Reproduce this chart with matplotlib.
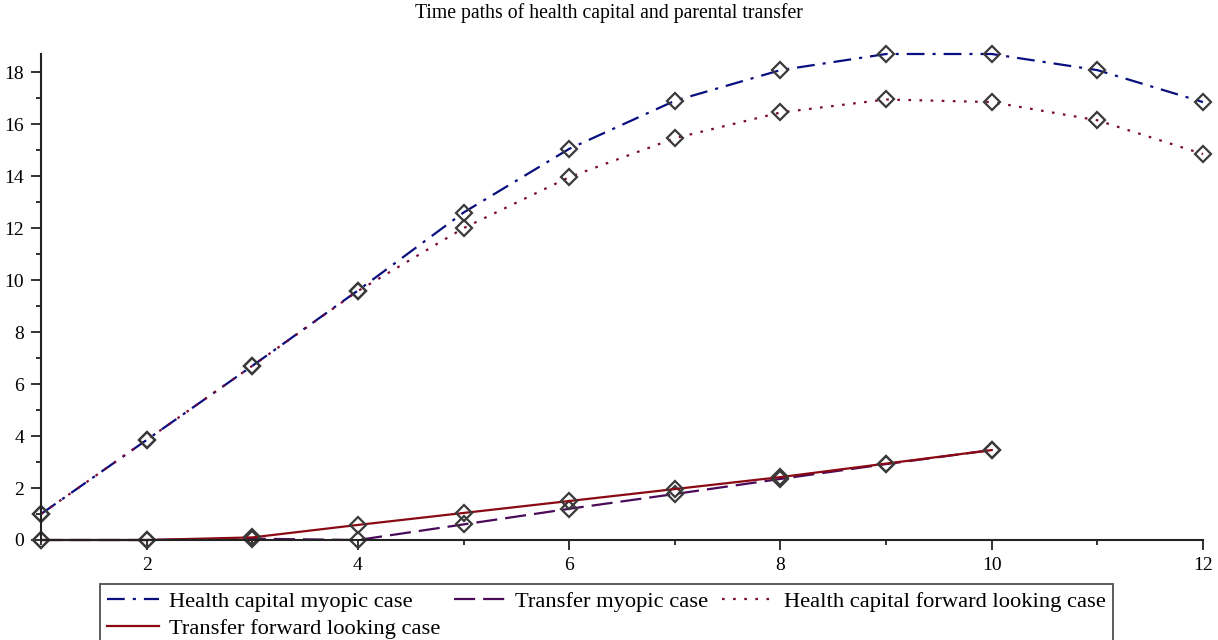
import numpy as np
import matplotlib
matplotlib.use("Agg")
import matplotlib.pyplot as plt

plt.rcParams["font.family"] = ["Liberation Serif", "DejaVu Serif"]

# ---- data ------------------------------------------------------------------
t = [1, 2, 3, 4, 5, 6, 7, 8, 9, 10, 11, 12]
health_myopic = [1.0, 3.85, 6.7, 9.6, 12.6, 15.05, 16.9, 18.08, 18.7, 18.7, 18.08, 16.85]
health_forward = [1.0, 3.85, 6.7, 9.58, 12.0, 13.96, 15.46, 16.45, 16.95, 16.85, 16.15, 14.85]
t_transfer = [1, 2, 3, 4, 5, 6, 7, 8, 9, 10]
transfer_myopic = [0.0, 0.0, 0.05, 0.0, 0.6, 1.2, 1.77, 2.35, 2.92, 3.46]
transfer_forward = [0.0, 0.0, 0.1, 0.58, 1.04, 1.5, 1.96, 2.42, 2.94, 3.46]

C_HM = "#0a0f80"   # navy
C_TM = "#4a0a5a"   # purple
C_HF = "#7a0a3a"   # maroon
C_TF = "#8a0a14"   # dark red
MK = dict(marker="D", ms=8, mfc="none", mec="#3a3a3a", mew=1.6)

fig = plt.figure(figsize=(12.18, 6.4), dpi=100)
ax = fig.add_axes([41 / 1218, 1 - 540 / 640, (1203 - 41) / 1218, (540 - 54) / 640])

l_hm, = ax.plot(t, health_myopic, color=C_HM, lw=1.6, dashes=(8, 3.6, 1.4, 3.6),
                label="Health capital myopic case", **MK)
l_tm, = ax.plot(t_transfer, transfer_myopic, color=C_TM, lw=1.6, dashes=(9.5, 3.6),
                label="Transfer myopic case", **MK)
l_hf, = ax.plot(t, health_forward, color=C_HF, lw=1.6, dashes=(1.2, 3.8),
                label="Health capital forward looking case", **MK)
l_tf, = ax.plot(t_transfer, transfer_forward, color=C_TF, lw=1.6,
                label="Transfer forward looking case", **MK)

ax.set_xlim(1, 12)
ax.set_ylim(0, 18.7)
ax.set_xticks([2, 4, 6, 8, 10, 12])
ax.set_xticks([1, 3, 5, 7, 9, 11], minor=True)
ax.set_yticks(np.arange(0, 19, 2))
ax.set_yticks(np.arange(1, 19, 2), minor=True)
ax.tick_params(which="major", length=7.2, width=1.3, labelsize=14, color="#222", pad=5)
ax.tick_params(which="minor", length=3.6, width=1.3, color="#222")
ax.spines[["top", "right"]].set_visible(False)
for s in ("left", "bottom"):
    ax.spines[s].set_linewidth(1.5)
    ax.spines[s].set_color("#222")
for m in (l_hm, l_tm, l_hf, l_tf):
    m.set_clip_on(False)

fig.text(0.5, 1 - 13 / 640, "Time paths of health capital and parental transfer",
         ha="center", va="center", fontsize=14.2)

leg = fig.legend([l_hm, l_tf, l_tm, l_hf],
                 [l_hm.get_label(), l_tf.get_label(), l_tm.get_label(), l_hf.get_label()],
                 loc="upper left", bbox_to_anchor=(100 / 1218, 1 - 584 / 640),
                 ncol=3, fontsize=16.2, frameon=True, fancybox=False, edgecolor="#222",
                 handlelength=2.3, handletextpad=0.45, columnspacing=0.6,
                 borderpad=0.3, labelspacing=0.3, borderaxespad=0)
leg.get_frame().set_linewidth(1.3)
for h in leg.legend_handles:
    h.set_marker("")

fig.savefig("out.png", dpi=100)
